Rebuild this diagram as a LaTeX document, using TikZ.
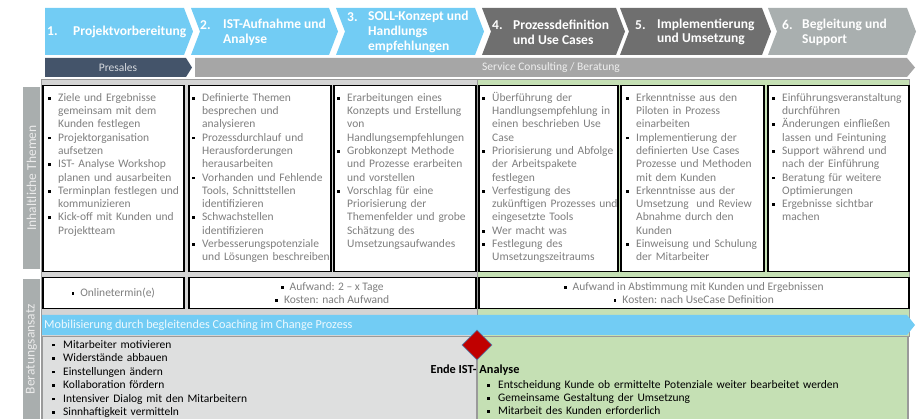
\documentclass[tikz,border=0pt]{standalone}
\usepackage{fontspec}
\setmainfont{Carlito}
\usetikzlibrary{shapes.geometric}

\definecolor{skyblue}{HTML}{72CCF4}
\definecolor{darkphase}{HTML}{6F6F6F}
\definecolor{lightphase}{HTML}{A9AFAF}
\definecolor{slate}{HTML}{44546A}
\definecolor{servgrey}{HTML}{A6A6A6}
\definecolor{labgrey}{HTML}{A9AEAE}
\definecolor{bggrey}{HTML}{D4D4D4}
\definecolor{bggreylow}{HTML}{DEDFDF}
\definecolor{bggreen}{HTML}{C5E0B4}
\definecolor{edgegrey}{HTML}{9A9A9A}
\definecolor{txtgrey}{HTML}{7F7F7F}
\definecolor{msred}{HTML}{C00000}
\definecolor{msedge}{HTML}{5A7FA8}

% small square bullet and a tight, ragged bullet list with hanging lines
\newcommand{\sqb}{\textcolor{black}{\rule[1.7pt]{2.8pt}{2.8pt}}}
\newcommand{\sqlabel}[1]{\strut#1\hfil}
\newenvironment{sqlist}[1]{%
  \begin{list}{\sqb}{\setlength{\leftmargin}{#1}\setlength{\labelwidth}{#1}%
    \setlength{\labelsep}{0pt}\setlength{\itemindent}{0pt}%
    \setlength{\itemsep}{0pt}\setlength{\parsep}{0pt}%
    \setlength{\topsep}{0pt}\setlength{\partopsep}{0pt}%
    \let\makelabel\sqlabel}\raggedright}{\end{list}}
% phase chevron: left x, right x, colour
\newcommand{\phasechev}[3]{\fill[#3] (#1,8) -- (#2,8) -- ({#2+9},31.5) -- (#2,55) -- (#1,55) -- ({#1+9},31.5) -- cycle;}

\begin{document}
\begin{tikzpicture}[x=1pt,y=-1pt,
  hdr/.style={font=\fontsize{13.5}{14.8}\selectfont\bfseries, text=white, anchor=west, inner sep=0, align=left},
  cbox/.style={draw=black, line width=1.5pt, fill=white, anchor=north west, inner sep=0},
  ctext/.style={anchor=north west, inner sep=0, text width=150pt, text=txtgrey,
                font=\fontsize{11.5}{13.3}\selectfont},
  rtext/.style={inner sep=0, text=txtgrey, align=center, font=\fontsize{11.5}{13}\selectfont},
  vbar/.style={fill=labgrey, rotate=90, minimum height=17pt, inner sep=0,
               text=white!92!black, font=\fontsize{13.5}{15}\selectfont},
  sepline/.style={draw=edgegrey, line width=1.6pt},
  btext/.style={anchor=north west, inner sep=0, text width=300pt, text=black,
                font=\fontsize{11.5}{13.5}\selectfont}
]
\useasboundingbox (0,0) rectangle (922,419);

% ---------- phase chevrons ----------
\fill[skyblue] (45,8) -- (184,8) -- (193,31.5) -- (184,55) -- (45,55) -- cycle;
\phasechev{191}{329}{skyblue}
\phasechev{336}{475}{skyblue}
\phasechev{482}{616}{darkphase}
\phasechev{620}{762}{darkphase}
\phasechev{768}{907}{lightphase}

\node[hdr] (n1) at (47,31.5) {1.};
\node[hdr] (t1) at (73,31.5) {Projektvorbereitung};
\node[hdr] (n2) at (200,25) {2.};
\node[hdr] (t2) at (223,32) {IST-Aufnahme und\\Analyse};
\node[hdr] (n3) at (347,17) {3.};
\node[hdr] (t3) at (368,32) {SOLL-Konzept und\\Handlungs\\empfehlungen};
\node[hdr] (n4) at (492,25) {4.};
\node[hdr] (t4) at (513,32) {Prozessdefinition\\und Use Cases};
\node[hdr] (n5) at (635,25) {5.};
\node[hdr] (t5) at (657,32) {Implementierung\\und Umsetzung};
\node[hdr] (n6) at (782,25) {6.};
\node[hdr] (t6) at (802,32) {Begleitung und\\Support};

% ---------- presales / service band ----------
\fill[slate] (45,58) -- (186,58) -- (192,67.5) -- (186,77) -- (45,77) -- cycle;
\fill[servgrey] (195,58) -- (907,58) -- (915,67.5) -- (907,77) -- (195,77) -- cycle;
\node[text=white!78!slate, font=\fontsize{11.5}{13}\selectfont, inner sep=0] (pre) at (118,67.5) {Presales};
\node[text=white!82!servgrey, font=\fontsize{11.5}{13}\selectfont, inner sep=0, anchor=west] (serv) at (482,67.5) {Service Consulting / Beratung};

% ---------- side labels ----------
\node[vbar, minimum width=182pt] (lab1) at (31.5,178) {Inhaltliche Themen};
\node[vbar, minimum width=140pt] (lab2) at (31.5,349) {Beratungsansatz};

% ---------- backgrounds ----------
\filldraw[fill=bggrey, draw=edgegrey, line width=1pt] (41,80) rectangle (477,337);
\filldraw[fill=bggreen, draw=edgegrey, line width=1pt] (477,80) rectangle (909,337);
\fill[bggreylow] (42,337) rectangle (477,419);
\fill[bggreen] (477,337) rectangle (908,419);

% ---------- content boxes, row 1 ----------
\node[cbox, minimum width=141pt, minimum height=186pt] (b1) at (42,85) {};
\node[cbox, minimum width=142pt, minimum height=186pt] (b2) at (188,85) {};
\node[cbox, minimum width=142pt, minimum height=186pt] (b3) at (333,85) {};
\node[cbox, minimum width=139pt, minimum height=186pt] (b4) at (478,85) {};
\node[cbox, minimum width=143pt, minimum height=186pt] (b5) at (620,85) {};
\node[cbox, minimum width=141pt, minimum height=186pt] (b6) at (767,85) {};

\node[ctext] (x1) at ([shift={(6,2.8)}]b1.north west) {%
  \begin{sqlist}{10pt}
  \item Ziele und Ergebnisse\\gemeinsam mit dem\\Kunden festlegen
  \item Projektorganisation\\aufsetzen
  \item IST- Analyse Workshop\\planen und ausarbeiten
  \item Terminplan festlegen und\\kommunizieren
  \item Kick-off mit Kunden und\\Projektteam
  \end{sqlist}};
\node[ctext] (x2) at ([shift={(4,2.8)}]b2.north west) {%
  \begin{sqlist}{10pt}
  \item Definierte Themen\\besprechen und\\analysieren
  \item Prozessdurchlauf und\\Herausforderungen\\herausarbeiten
  \item Vorhanden und Fehlende\\Tools, Schnittstellen\\identifizieren
  \item Schwachstellen\\identifizieren
  \item Verbesserungspotenziale\\und Lösungen beschreiben
  \end{sqlist}};
\node[ctext] (x3) at ([shift={(4,2.8)}]b3.north west) {%
  \begin{sqlist}{10pt}
  \item Erarbeitungen eines\\Konzepts und Erstellung\\von\\Handlungsempfehlungen
  \item Grobkonzept Methode\\und Prozesse erarbeiten\\und vorstellen
  \item Vorschlag für eine\\Priorisierung der\\Themenfelder und grobe\\Schätzung des\\Umsetzungsaufwandes
  \end{sqlist}};
\node[ctext] (x4) at ([shift={(4,2.8)}]b4.north west) {%
  \begin{sqlist}{10pt}
  \item Überführung der\\Handlungsempfehlung in\\einen beschrieben Use\\Case
  \item Priorisierung und Abfolge\\der Arbeitspakete\\festlegen
  \item Verfestigung des\\zukünftigen Prozesses und\\eingesetzte Tools
  \item Wer macht was
  \item Festlegung des\\Umsetzungszeitraums
  \end{sqlist}};
\node[ctext] (x5) at ([shift={(6,2.8)}]b5.north west) {%
  \begin{sqlist}{10pt}
  \item Erkenntnisse aus den\\Piloten in Prozess\\einarbeiten
  \item Implementierung der\\definierten Use Cases\\Prozesse und Methoden\\mit dem Kunden
  \item Erkenntnisse aus der\\Umsetzung\ \ und Review\\Abnahme durch den\\Kunden
  \item Einweisung und Schulung\\der Mitarbeiter
  \end{sqlist}};
\node[ctext] (x6) at ([shift={(5,2.8)}]b6.north west) {%
  \begin{sqlist}{10pt}
  \item Einführungsveranstaltung\\durchführen
  \item Änderungen einfließen\\lassen und Feintuning
  \item Support während und\\nach der Einführung
  \item Beratung für weitere\\Optimierungen
  \item Ergebnisse sichtbar\\machen
  \end{sqlist}};

% ---------- effort / cost boxes, row 2 ----------
\node[cbox, minimum width=141pt, minimum height=31pt] (c1) at (42,277) {};
\node[cbox, minimum width=287pt, minimum height=31pt] (c2) at (188,277) {};
\node[cbox, minimum width=430pt, minimum height=31pt] (c3) at (478,277) {};
\node[rtext] (y1) at (c1.center) {\sqb\hspace{6pt}Onlinetermin(e)};
\node[rtext] (y2) at (c2.center) {\sqb\hspace{6pt}Aufwand: 2 – x Tage\\\sqb\hspace{6pt}Kosten: nach Aufwand};
\node[rtext] (y3) at (c3.center) {\sqb\hspace{6pt}Aufwand in Abstimmung mit Kunden und Ergebnissen\\\sqb\hspace{6pt}Kosten: nach UseCase Definition};

% ---------- coaching band ----------
\fill[skyblue] (42,315) -- (907,315) -- (915,325) -- (907,335) -- (42,335) -- cycle;
\node[anchor=west, inner sep=0, text=white!88!skyblue, font=\fontsize{12.2}{14}\selectfont] (coach) at (44,325)
  {Mobilisierung durch begleitendes Coaching im Change Prozess};

% ---------- bottom area ----------
\draw[sepline] (42,337) -- (42,419);
\draw[sepline] (477,337) -- (477,419);
\draw[sepline] (908,337) -- (908,419);

\node[btext] (z1) at (52,334.5) {%
  \begin{sqlist}{11pt}
  \item Mitarbeiter motivieren
  \item Widerstände abbauen
  \item Einstellungen ändern
  \item Kollaboration fördern
  \item Intensiver Dialog mit den Mitarbeitern
  \item Sinnhaftigkeit vermitteln
  \end{sqlist}};

\node[diamond, fill=msred, draw=msedge, line width=0.6pt, minimum width=30pt, minimum height=30pt, inner sep=0] (ms) at (477,345) {};
\node[inner sep=0, font=\fontsize{12.3}{14}\selectfont\bfseries, text=black] (ende) at (475,370) {Ende IST- Analyse};

\node[btext, text width=420pt, font=\fontsize{11.5}{13}\selectfont] (z2) at (487,375.5) {%
  \begin{sqlist}{11pt}
  \item Entscheidung Kunde ob ermittelte Potenziale weiter bearbeitet werden
  \item Gemeinsame Gestaltung der Umsetzung
  \item Mitarbeit des Kunden erforderlich
  \end{sqlist}};
\end{tikzpicture}
\end{document}
